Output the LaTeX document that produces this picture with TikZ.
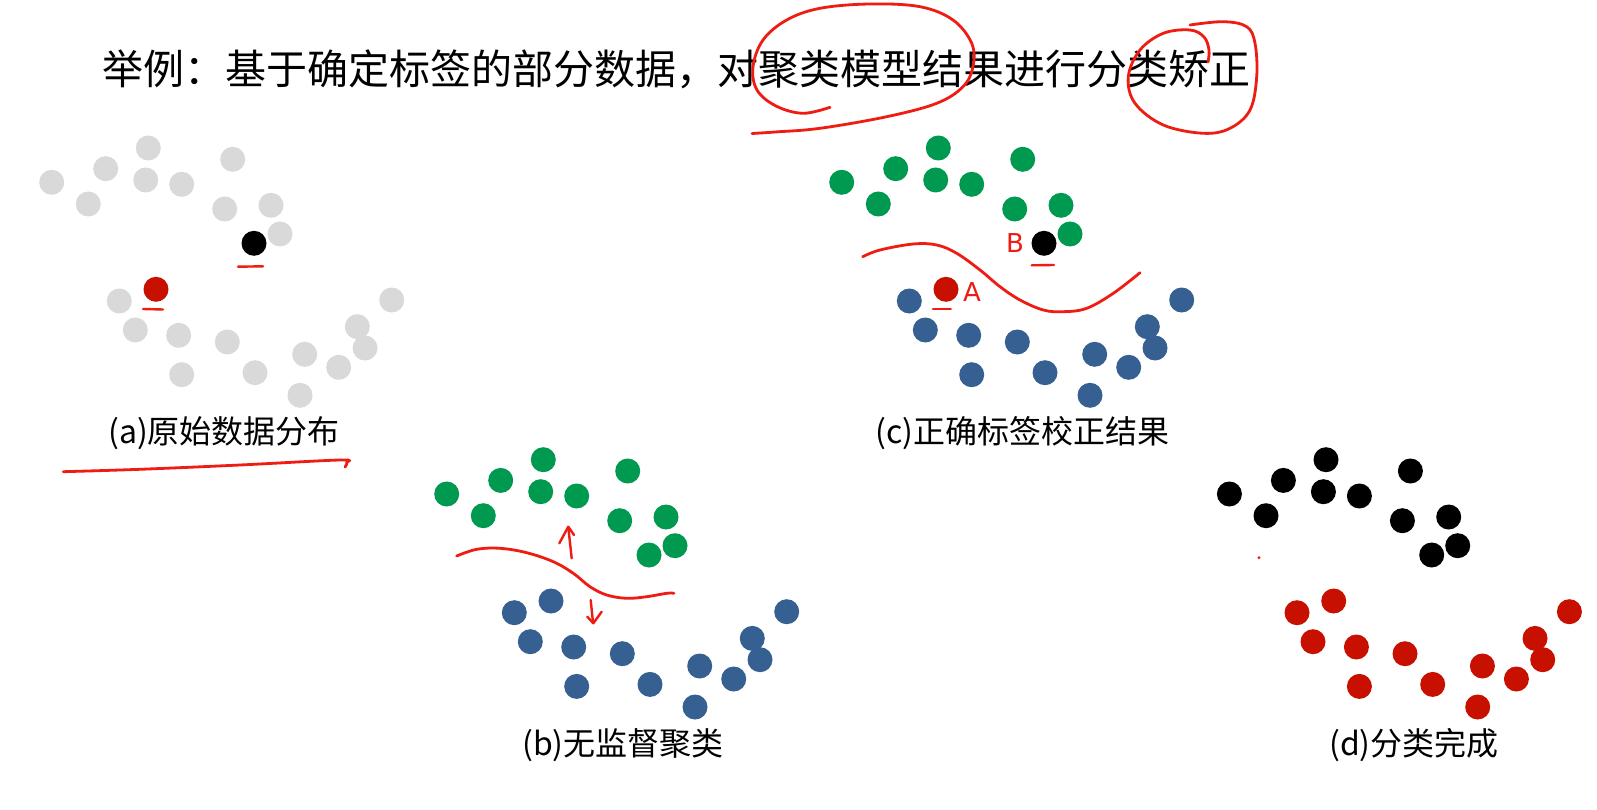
\documentclass[tikz,border=0pt]{standalone}
\usepackage{fontspec}
\setmainfont{Noto Sans CJK SC}
\newfontfamily\handfont{DejaVu Sans}
\definecolor{dgray}{RGB}{217,217,217}
\definecolor{dgreen}{RGB}{0,153,80}
\definecolor{dblue}{RGB}{55,96,146}
\definecolor{dred}{RGB}{200,16,0}
\definecolor{penred}{RGB}{238,28,18}
\newcommand\drawpanel[5]{%
  \foreach \i/\x/\y in {1/51.7/182.3,2/105.7/168.7,3/148.3/148,4/145.7/180,5/181.7/184.3,6/88.3/204,7/232.7/159.3,8/224.7/209,9/271/205.3,10/280/234}
    {\node[dot,fill=#2] (#1t\i) at (\x,\y) {};}
  \node[dot,fill=#3] (#1k) at (254,243.3) {};
  \node[dot,fill=#4] (#1r) at (156,289.3) {};
  \foreach \i/\x/\y in {1/119.3/301,2/391.7/300,3/135.3/330,4/178.7/335.3,5/227.3/342,6/357.3/326.7,7/365/348,8/304.7/354.3,9/338.7/367.3,10/181.7/374.7,11/255/372.7,12/300/395.3}
    {\node[dot,fill=#5] (#1b\i) at (\x,\y) {};}
}
\begin{document}
\begin{tikzpicture}[x=1pt,y=-1pt,
  dot/.style={circle,inner sep=0pt,minimum size=25pt,draw=none},
  pen/.style={draw=penred,line width=2.8pt,line cap=round,line join=round},
  lbl/.style={anchor=west,inner sep=0pt,font=\fontsize{32}{32}\selectfont},
  hand/.style={text=penred,inner sep=0pt,font=\handfont\fontsize{26}{26}\selectfont}]
\useasboundingbox (0,0) rectangle (1597,810);
\fill[white] (0,0) rectangle (1597,810);

% title
\node[anchor=west,inner sep=0pt,font=\fontsize{41}{41}\selectfont] (title) at (102,69)
  {举例：基于确定标签的部分数据，对聚类模型结果进行分类矫正};

% title annotations
\draw[pen] plot[smooth,tension=0.6] coordinates {(830,107.3) (803,113.3) (776,106) (757,90) (753,66.7) (763,40) (786.7,20) (820,8.3) (870,4) (920,6.7) (953,20) (971.7,43.3) (973,66.7) (963,86.7) (936.7,103.3) (886.7,116.7) (820,128.3) (775,132) (752,133.5)};
\draw[pen] plot[smooth,tension=0.6] coordinates {(1190,25) (1223.3,21.7) (1246.7,26.7) (1255,43.3) (1256.7,76.7) (1250,110) (1230,128.3) (1203.3,133.3) (1163.3,125) (1135,103.3) (1128.3,76.7) (1140,50) (1163.3,33.3) (1190,30) (1204,37) (1209,50) (1208,62)};

% (a)
\begin{scope}
  \drawpanel{a}{dgray}{black}{dred}{dgray}
\end{scope}
\draw[pen,line width=2.4pt] (238,266.7) -- (263,266.3);
\draw[pen,line width=2.4pt] (143,309) -- (163,309.5);
\node[lbl] (la) at (108,433) {(a)原始数据分布};
\draw[pen] plot[smooth,tension=0.6] coordinates {(63.3,471.7) (140,469.3) (240,465) (340,460) (346.7,462.5) (345,467)};

% (c)
\begin{scope}[shift={(790,0)}]
  \drawpanel{c}{dgreen}{black}{dred}{dblue}
\end{scope}
\node[hand] (lB) at (1015,242.7) {B};
\node[hand] (lA) at (972,291.7) {A};
\draw[pen,line width=2.4pt] (1031.7,265.3) -- (1054,265);
\draw[pen,line width=2.4pt] (933,309) -- (950.7,309);
\draw[pen] plot[smooth,tension=0.6] coordinates {(862.7,256.7) (880,250) (913.3,244) (936.7,245) (956.7,253.3) (980,270) (1000,286.7) (1020,300) (1043.3,310) (1063.3,311.7) (1086.7,308.3) (1113.3,293.3) (1140,272.7)};
\node[lbl] (lc) at (875,433) {(c)正确标签校正结果};

% (b)
\begin{scope}[shift={(395,311.7)}]
  \drawpanel{b}{dgreen}{dgreen}{dblue}{dblue}
\end{scope}
\draw[pen] plot[smooth,tension=0.6] coordinates {(456.7,556) (476.7,549.3) (500,548.3) (526.7,552.7) (553.3,561.7) (573.3,573.3) (590,586.7) (606.7,595) (626.7,598.3) (646.7,596.7) (666.7,593.3) (674,593.3)};
\draw[pen,line width=2.4pt] (571.7,558.3) -- (568.3,527.5);
\draw[pen,line width=2.4pt] (559.3,543.3) -- (568.3,526.7) -- (574,535);
\draw[pen,line width=2.4pt] (590.7,600) -- (593,622.7);
\draw[pen,line width=2.4pt] (587.3,616.7) -- (593.3,623.3) -- (601.7,611.7);
\node[lbl] (lb) at (522,745) {(b)无监督聚类};

% (d)
\begin{scope}[shift={(1177.7,311.7)}]
  \drawpanel{d}{black}{black}{dred}{dred}
\end{scope}
\fill[penred] (1259,557.7) circle (1.6);
\node[lbl] (ld) at (1329,745) {(d)分类完成};
\end{tikzpicture}
\end{document}
